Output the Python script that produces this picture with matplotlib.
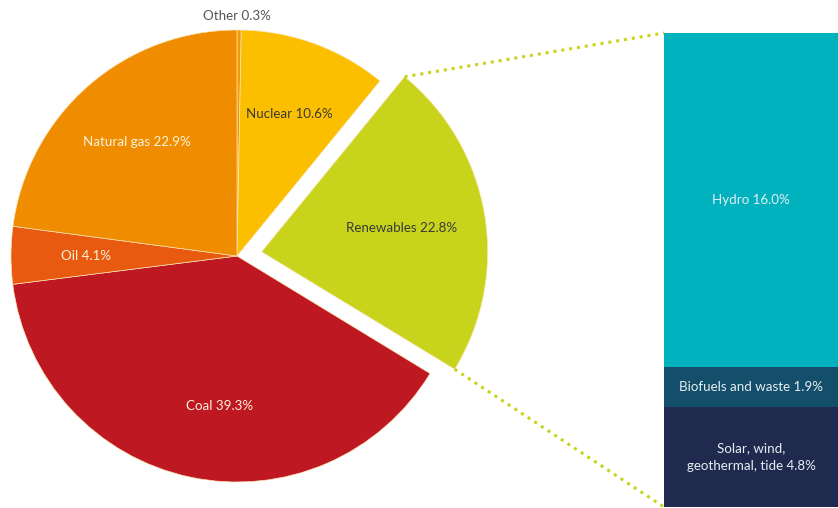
import numpy as np
import matplotlib.pyplot as plt

plt.rcParams['font.family'] = ['Lato', 'DejaVu Sans']

# energy mix (%)
labels = ["Other", "Nuclear", "Renewables", "Coal", "Oil", "Natural gas"]
shares = [0.3, 10.6, 22.8, 39.3, 4.1, 22.9]
colors = ["#F29A00", "#FBBF00", "#C8D41C", "#BE1823", "#E85A10", "#F08C00"]

# renewables breakdown (%), bottom to top
ren_labels = ["Solar, wind,\ngeothermal, tide", "Biofuels and waste", "Hydro"]
ren_shares = [4.8, 1.9, 16.0]
ren_colors = ["#1F2A4E", "#134F6A", "#00B2BE"]

W, H = 838, 508
fig = plt.figure(figsize=(W / 100, H / 100), dpi=100)
ax = fig.add_axes([0, 0, 1, 1])

cx, cy, R = 237, 252, 226
explode = [0, 0, 25, 0, 0, 0]   # offset in pixels
wedges, _ = ax.pie(shares, colors=colors, explode=explode, startangle=90,
                   counterclock=False, center=(cx, cy), radius=R,
                   wedgeprops=dict(edgecolor='#FCE3B0', linewidth=0.5),
                   frame=True)
ax.set_xlim(0, W)
ax.set_ylim(0, H)
ax.set_aspect('equal')
ax.axis('off')

dark = "#3a3a3a"
light = "#FBF3DC"
txt_col = {"Nuclear": dark, "Renewables": dark, "Coal": light,
           "Oil": light, "Natural gas": light}
ang_shift = {"Coal": 5.5}
fs = 9.6
for w, lab, s in zip(wedges, labels, shares):
    if lab == "Other":
        continue
    mid = np.deg2rad((w.theta1 + w.theta2) / 2 + ang_shift.get(lab, 0))
    f = 0.63 if lab == "Renewables" else 0.67
    wx, wy = w.center
    ax.text(wx + f * R * np.cos(mid), wy + f * R * np.sin(mid),
            f"{lab} {s}%", ha='center', va='center', fontsize=fs,
            color=txt_col[lab])

ax.text(cx, H - 16, f"Other {shares[0]}%", ha='center', va='center',
        fontsize=fs, color="#555555")

# stacked bar for renewables
bx0, bx1 = 664, W
by0, by1 = 1, 475
scale = (by1 - by0) / sum(ren_shares)
bottom = by0
for lab, s, c in zip(ren_labels, ren_shares, ren_colors):
    h = s * scale
    ax.bar((bx0 + bx1) / 2, h, width=bx1 - bx0, bottom=bottom, color=c,
           edgecolor='none')
    ax.text((bx0 + bx1) / 2, bottom + h / 2, f"{lab} {s}%", ha='center',
            va='center', fontsize=fs, color="#E6EEF2", linespacing=1.6)
    bottom += h

# dotted connector lines
rw = wedges[2]
rx, ry = rw.center
t1, t2 = np.deg2rad(rw.theta1), np.deg2rad(rw.theta2)
ax.plot([rx + R * np.cos(t2), bx0], [ry + R * np.sin(t2), by1],
        color="#C8D41C", linestyle=(0, (1, 1.6)), linewidth=2.2)
ax.plot([rx + R * np.cos(t1), bx0], [ry + R * np.sin(t1), by0],
        color="#C8D41C", linestyle=(0, (1, 1.6)), linewidth=2.2)

fig.savefig("out.png", dpi=100)
